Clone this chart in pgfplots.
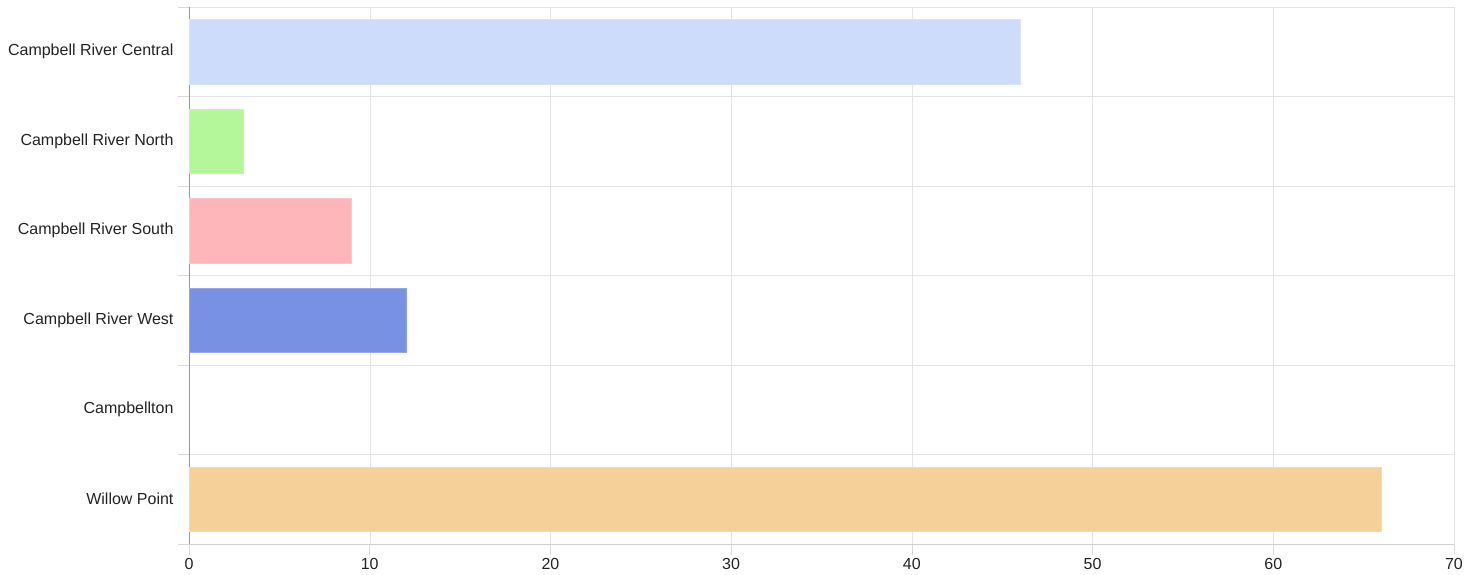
\documentclass[border=0pt]{standalone}
\usepackage{fontspec}
\setmainfont{Liberation Sans}
\usepackage{pgfplots}
\pgfplotsset{compat=1.18}

\definecolor{gridc}{HTML}{E4E4E4}
\definecolor{txt}{HTML}{222222}
\definecolor{cCentral}{HTML}{CCDCFA}
\definecolor{cNorth}{HTML}{B3F79A}
\definecolor{cSouth}{HTML}{FFB6BA}
\definecolor{cWest}{HTML}{7891E3}
\definecolor{cWillow}{HTML}{F5D199}

\begin{document}
\begin{tikzpicture}
\useasboundingbox (-189pt,-31pt) rectangle (1289pt,544pt);
\begin{axis}[
  at={(0,0)}, anchor=south west,
  scale only axis, width=1265pt, height=537pt,
  xbar, bar shift=0pt, bar width=0.72,
  y dir=reverse,
  xmin=0, xmax=70, xtick distance=10,
  ymin=-0.5, ymax=5.5,
  % grid and ticks at the category boundaries, labels at the centres
  ytick={-0.5,0.5,1.5,2.5,3.5,4.5,5.5},
  yticklabels={},
  extra y ticks={0,1,2,3,4,5},
  extra y tick labels={Campbell River Central, Campbell River North, Campbell River South, Campbell River West, Campbellton, Willow Point},
  extra y tick style={grid=none, tick style={draw=none},
    yticklabel style={xshift=-1pt}},
  axis x line*=bottom, axis y line*=left,
  x axis line style={draw=gridc!80!gray},
  y axis line style={draw=gray!80},
  xtick pos=bottom, ytick pos=left,
  tick align=outside,
  major tick length=11pt,
  every tick/.style={draw=gridc!95!black, line width=0.5pt},
  grid=major,
  major grid style={draw=gridc},
  ticklabel style={font=\fontsize{16}{18}\selectfont, text=txt},
  /pgf/number format/assume math mode=true,
  xticklabel style={yshift=0pt},
]
\addplot[fill=cCentral, draw=cCentral!80!white] coordinates {(46,0)};
\addplot[fill=cNorth, draw=cNorth!80!white] coordinates {(3,1)};
\addplot[fill=cSouth, draw=cSouth!80!white] coordinates {(9,2)};
\addplot[fill=cWest, draw=cWest!80!white] coordinates {(12,3)};
\addplot[fill=cWillow, draw=cWillow!80!white] coordinates {(66,5)};
\end{axis}
\end{tikzpicture}
\end{document}
